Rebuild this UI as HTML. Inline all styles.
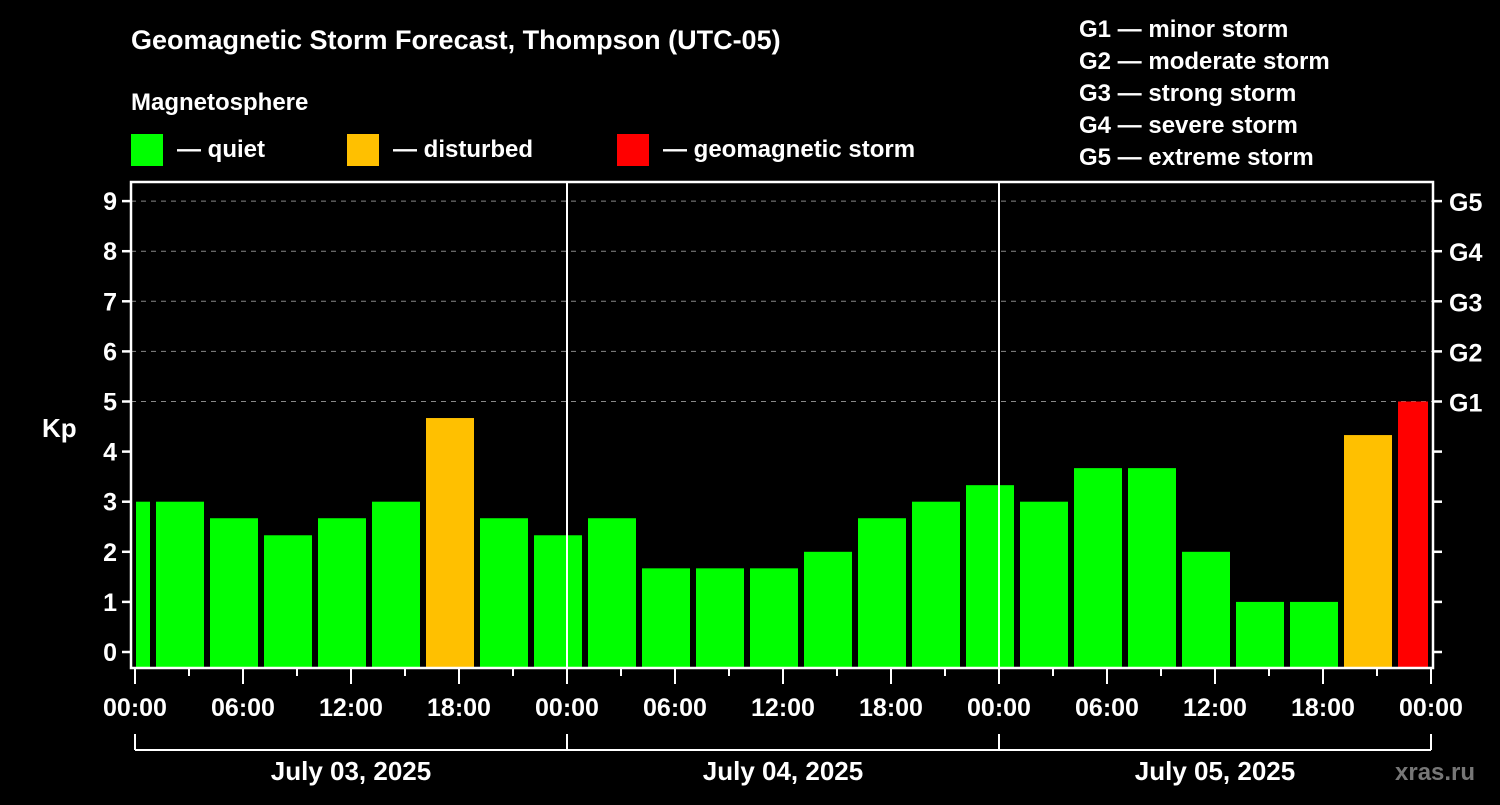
<!DOCTYPE html>
<html><head><meta charset="utf-8"><style>
body{margin:0;background:#000;width:1500px;height:800px;overflow:hidden}
svg text{font-family:"Liberation Sans",Arial,sans-serif;font-weight:bold;fill:#fff}
</style></head><body>
<svg id="c" width="1500" height="800" xmlns="http://www.w3.org/2000/svg">
<text x="131" y="49" font-size="27">Geomagnetic Storm Forecast, Thompson (UTC-05)</text>
<text x="131" y="110" font-size="24">Magnetosphere</text>
<g><rect x="131" y="134" width="32" height="32" fill="#00ff00"/><text x="177" y="157" font-size="24">— quiet</text></g>
<g><rect x="347" y="134" width="32" height="32" fill="#ffc000"/><text x="393" y="157" font-size="24">— disturbed</text></g>
<g><rect x="617" y="134" width="32" height="32" fill="#ff0000"/><text x="663" y="157" font-size="24">— geomagnetic storm</text></g>
<g font-size="24">
<text x="1079" y="37">G1 — minor storm</text><text x="1079" y="69">G2 — moderate storm</text><text x="1079" y="101">G3 — strong storm</text><text x="1079" y="133">G4 — severe storm</text><text x="1079" y="165">G5 — extreme storm</text></g>
<text x="42" y="437" font-size="26">Kp</text>
<text x="1395" y="780" font-size="24" fill="#777" style="fill:#777">xras.ru</text>
<g id="plot"></g>
</svg>
<script>
const kpValues=[3.0,3.0,2.67,2.33,2.67,3.0,4.67,2.67,2.33,2.67,1.67,1.67,1.67,2.0,2.67,3.0,3.33,3.0,3.67,3.67,2.0,1.0,1.0,4.33,5.0];
const slotStartHour=-2;
const yTicks=[0,1,2,3,4,5,6,7,8,9];
const gLabels=["G1","G2","G3","G4","G5"];
const xTickLabels=["00:00","06:00","12:00","18:00","00:00","06:00","12:00","18:00","00:00","06:00","12:00","18:00","00:00"];
const dateLabels=["July 03, 2025","July 04, 2025","July 05, 2025"];
const NS="http://www.w3.org/2000/svg";
const g=document.getElementById('plot');
const X0=135,PXH=18,Y0=652,PXK=50.1,TOP=182,BOT=668,L=131,R=1433;
const x=h=>X0+h*PXH, y=k=>Y0-k*PXK;
function el(t,a,txt){const e=document.createElementNS(NS,t);for(const k in a)e.setAttribute(k,a[k]);if(txt!==undefined)e.textContent=txt;g.appendChild(e);return e;}
// grid
yTicks.forEach(k=>{if(k>=5){const e=el('line',{x1:L,x2:R,y1:y(k),y2:y(k),stroke:'#888','stroke-width':1,'stroke-dasharray':'5,5'});

}});
// bars
kpValues.forEach((v,i)=>{let h0=slotStartHour+3*i,h1=h0+3;let x0=Math.max(x(h0)+3,x(0)+1),x1=Math.min(x(h1)-3,x(72)-3);
const c=v>=5?'#ff0000':(v>=4?'#ffc000':'#00ff00');
const r=el('rect',{x:x0,y:y(v),width:x1-x0,height:BOT-y(v),fill:c});

});
// day separators
[24,48].forEach(h=>{const e=el('line',{x1:x(h),x2:x(h),y1:TOP,y2:BOT,stroke:'#fff','stroke-width':2});

});
// frame
const f=el('rect',{x:L,y:TOP,width:R-L,height:BOT-TOP,fill:'none',stroke:'#fff','stroke-width':2.5});


// y ticks
yTicks.forEach(k=>{el('line',{x1:L-9,x2:L,y1:y(k),y2:y(k),stroke:'#fff','stroke-width':2.5});el('line',{x1:R,x2:R+9,y1:y(k),y2:y(k),stroke:'#fff','stroke-width':2.5});
const t=el('text',{x:L-14,y:y(k)+9,'font-size':25,'text-anchor':'end'},String(k));

});
gLabels.forEach((s,i)=>{const t=el('text',{x:R+16,y:y(5+i)+10,'font-size':25},s);

});
// x ticks
for(let h=0;h<=72;h+=3){const big=h%6===0;el('line',{x1:x(h),x2:x(h),y1:BOT,y2:BOT+(big?16:8),stroke:'#fff','stroke-width':2});}
xTickLabels.forEach((s,i)=>{const t=el('text',{x:x(i*6),y:716,'font-size':25,'text-anchor':'middle'},s);

});
// date bracket
el('line',{x1:x(0),x2:x(72),y1:750,y2:750,stroke:'#fff','stroke-width':2});
[0,24,48,72].forEach(h=>el('line',{x1:x(h),x2:x(h),y1:734,y2:750,stroke:'#fff','stroke-width':2}));
dateLabels.forEach((s,i)=>{const t=el('text',{x:x(i*24+12),y:780,'font-size':26,'text-anchor':'middle'},s);

});
</script>
</body></html>
